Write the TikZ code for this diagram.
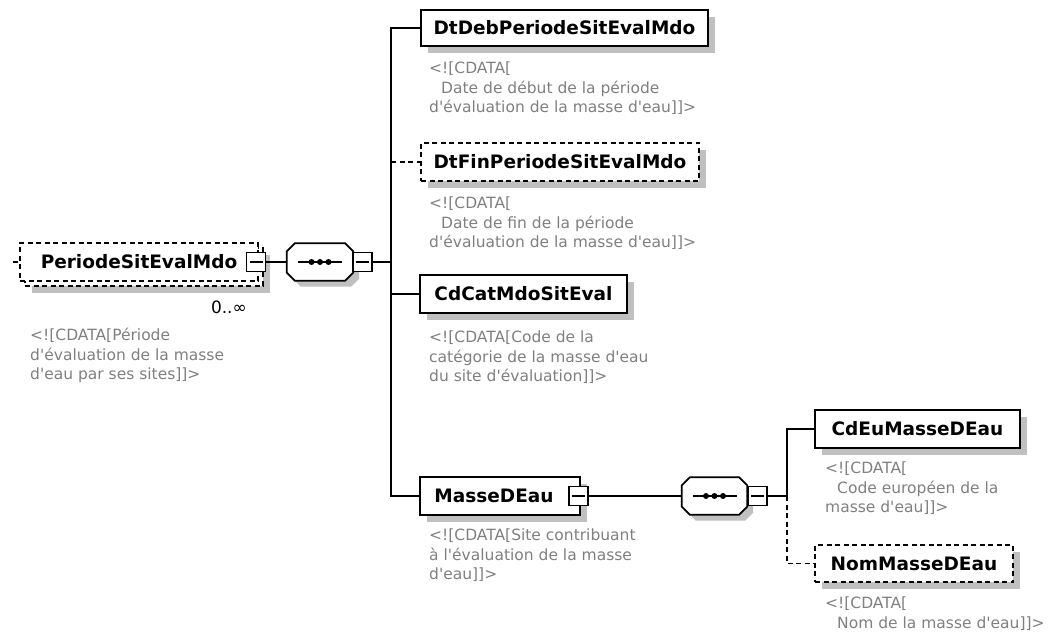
\documentclass[tikz,border=0pt]{standalone}
\usepackage{fontspec}
\newfontfamily\dvs{DejaVu Sans}
\usetikzlibrary{shadows}
\definecolor{cmtc}{RGB}{128,128,128}
\definecolor{shd}{RGB}{192,192,192}
\newcommand\octopath[1]{([xshift=8pt]#1.north west) -- ([xshift=-8pt]#1.north east) -- ([yshift=-8pt]#1.north east) -- ([yshift=8pt]#1.south east) -- ([xshift=-8pt]#1.south east) -- ([xshift=8pt]#1.south west) -- ([yshift=8pt]#1.south west) -- ([yshift=-8pt]#1.north west) -- cycle}
\begin{document}
\begin{tikzpicture}[x=1pt,y=-1pt,
  ln/.style={line width=1.7pt},
  dsh/.style={dash pattern=on 5pt off 3.5pt},
  box/.style={draw, line width=1.8pt, fill=white, inner sep=0pt,
    font=\dvs\bfseries\fontsize{18.5}{22}\selectfont},
  shad/.style={drop shadow={shadow xshift=7pt, shadow yshift=-7pt, opacity=1, fill=shd}},
  mbox/.style={draw, line width=1.5pt, fill=white, minimum width=19pt, minimum height=19pt, inner sep=0pt,
    path picture={\draw[line width=1.5pt] ([xshift=3pt]path picture bounding box.west) -- ([xshift=-3pt]path picture bounding box.east);}},
  seqbox/.style={minimum width=66pt, minimum height=37pt, inner sep=0pt},
  cmt/.style={anchor=north west, inner sep=0pt, align=left, text=cmtc,
    font=\dvs\fontsize{15.5}{19.5}\selectfont}
]
\useasboundingbox[fill=white] (0,0) rectangle (1055,636);

% root element (multiple occurrences)
\node[box, dsh, shad, minimum width=238pt, minimum height=38pt] (rootb) at (144,267) {};
\node[box, dsh, minimum width=238pt, minimum height=38pt] (root) at (139,262) {PeriodeSitEvalMdo};
\node[mbox] (rootm) at (256,262) {};
\coordinate (stub) at (13,262);
\draw[ln, dsh] (stub) -- (root.west);
\node[anchor=east, inner sep=0pt, font=\dvs\fontsize{17}{20}\selectfont] (occ) at (247,307) {0..∞};
\node[cmt] (croot) at (30,328) {<![CDATA[Période\\d'évaluation de la masse\\d'eau par ses sites]]>};

% sequence 1
\node[seqbox] (seq1) at (320,262) {};
\fill[shd, transform canvas={xshift=6pt, yshift=-6pt}] \octopath{seq1};
\draw[ln, fill=white] \octopath{seq1};
\draw[line width=1.5pt] ([xshift=-22pt]seq1.center) -- ([xshift=22pt]seq1.center);
\fill ([xshift=-8.5pt]seq1.center) circle (3pt) (seq1.center) circle (3pt) ([xshift=8.5pt]seq1.center) circle (3pt);
\node[mbox] (seq1m) at (362.5,262) {};
\draw[ln] (rootm.east) -- (seq1.west);
\coordinate (bus1) at (391,0);

% children
\node[box, shad, minimum width=287pt, minimum height=36pt] (dtdeb) at (564.5,28) {DtDebPeriodeSitEvalMdo};
\node[cmt] (cdtdeb) at (429,62) {<![CDATA[\\\hspace*{12pt}Date de début de la période\\d'évaluation de la masse d'eau]]>};

\node[box, dsh, shad, minimum width=278pt, minimum height=38pt] (dtfin) at (560,162) {DtFinPeriodeSitEvalMdo};
\node[cmt] (cdtfin) at (429,197) {<![CDATA[\\\hspace*{12pt}Date de fin de la période\\d'évaluation de la masse d'eau]]>};

\node[box, shad, minimum width=207pt, minimum height=38pt] (cdcat) at (523.5,294) {CdCatMdoSitEval};
\node[cmt] (ccdcat) at (429,331) {<![CDATA[Code de la\\catégorie de la masse d'eau\\du site d'évaluation]]>};

\node[box, shad, minimum width=160pt, minimum height=38pt] (masse) at (500,496) {MasseDEau\hspace*{12pt}};
\node[mbox] (massem) at (578.5,496) {};
\node[cmt] (cmasse) at (429,529) {<![CDATA[Site contribuant\\à l'évaluation de la masse\\d'eau]]>};

\draw[ln] (dtdeb.west) -- (bus1 |- dtdeb.west) -- (bus1 |- masse.west) -- (masse.west);
\draw[ln] (seq1m.east) -- (bus1 |- seq1m.east);
\draw[ln, dsh] (bus1 |- dtfin.west) -- (dtfin.west);
\draw[ln] (bus1 |- cdcat.west) -- (cdcat.west);

% sequence 2
\node[seqbox, minimum width=65pt] (seq2) at (714.5,496) {};
\fill[shd, transform canvas={xshift=6pt, yshift=-6pt}] \octopath{seq2};
\draw[ln, fill=white] \octopath{seq2};
\draw[line width=1.5pt] ([xshift=-22pt]seq2.center) -- ([xshift=22pt]seq2.center);
\fill ([xshift=-8.5pt]seq2.center) circle (3pt) (seq2.center) circle (3pt) ([xshift=8.5pt]seq2.center) circle (3pt);
\node[mbox] (seq2m) at (757.5,496) {};
\draw[ln] (massem.east) -- (seq2.west);
\coordinate (bus2) at (787,0);

\node[box, shad, minimum width=205pt, minimum height=38pt] (cdeu) at (917.5,429) {CdEuMasseDEau};
\node[cmt] (ccdeu) at (825,462) {<![CDATA[\\\hspace*{12pt}Code européen de la\\masse d'eau]]>};

\node[box, dsh, shad, minimum width=198pt, minimum height=37pt] (nom) at (914,563.5) {NomMasseDEau};
\node[cmt] (cnom) at (825,597) {<![CDATA[\\\hspace*{12pt}Nom de la masse d'eau]]>};

\draw[ln] (cdeu.west) -- (bus2 |- cdeu.west) -- (bus2 |- seq2m.east);
\draw[ln] (seq2m.east) -- (bus2 |- seq2m.east);
\draw[ln, dsh] (bus2 |- seq2m.east) -- (bus2 |- nom.west) -- (nom.west);
\end{tikzpicture}
\end{document}
